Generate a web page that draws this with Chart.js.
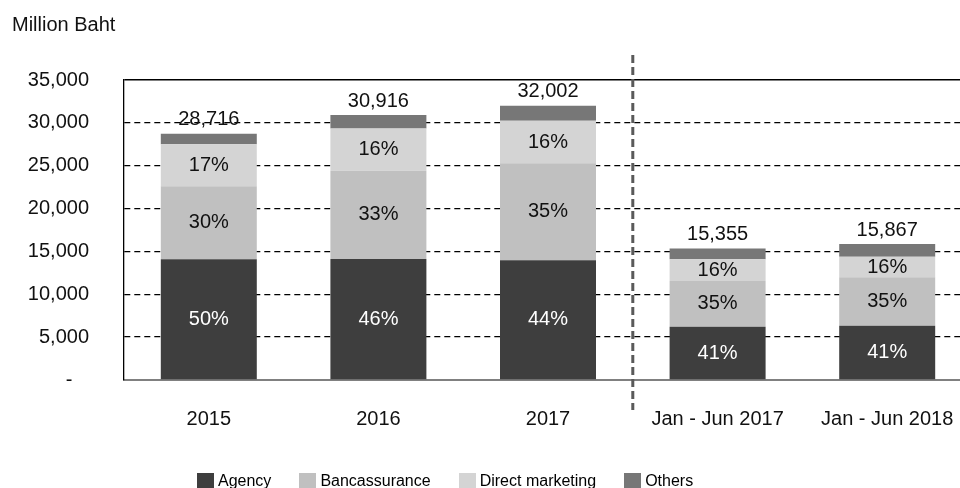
<!DOCTYPE html>
<html><head><meta charset="utf-8">
<script src="https://cdn.jsdelivr.net/npm/chart.js@4.4.1/dist/chart.umd.min.js"></script>
<style>
html,body{margin:0;padding:0;overflow:hidden;background:#fff;width:960px;height:488px;position:relative}
#wrap{position:absolute;left:0;top:0;width:972px;height:488px}
#legend{position:absolute;left:197px;top:473px;display:flex;font:16px 'Liberation Sans',Arial,sans-serif;line-height:16px;color:#000;white-space:nowrap}
.item{display:flex;align-items:flex-start;margin-right:28px}
.box{width:17px;height:15px;margin-right:4px}
</style></head><body>
<div id="wrap"><canvas id="c" width="972" height="488"></canvas></div>
<div id="legend"></div>
<script>
const categories = ['2015', '2016', '2017', 'Jan - Jun 2017', 'Jan - Jun 2018'];
const seriesNames = ['Agency', 'Bancassurance', 'Direct marketing', 'Others'];
const agency = [14100, 14120, 13960, 6220, 6340];
const bancassurance = [8500, 10300, 11320, 5330, 5640];
const directMarketing = [4900, 4910, 4970, 2530, 2410];
const others = [1216, 1586, 1752, 1275, 1477];
const totals = [28716, 30916, 32002, 15355, 15867];
const agencyPct = [50, 46, 44, 41, 41];
const bancPct = [30, 33, 35, 35, 35];
const dmPct = [17, 16, 16, 16, 16];
const yTicks = [0, 5000, 10000, 15000, 20000, 25000, 30000, 35000];
const colors = ['#3e3e3e', '#c0c0c0', '#d4d4d4', '#777777'];

const FONT = "'Liberation Sans', Arial, sans-serif";

const legendEl = document.getElementById('legend');
seriesNames.forEach((n, i) => {
  const it = document.createElement('div'); it.className = 'item';
  const b = document.createElement('div'); b.className = 'box'; b.style.background = colors[i];
  const t = document.createElement('span'); t.textContent = n;
  it.appendChild(b); it.appendChild(t); legendEl.appendChild(it);
});

const labelPlugin = {
  id: 'labels',
  afterDatasetsDraw(chart) {
    const ctx = chart.ctx;
    ctx.save();
    ctx.font = '20px ' + FONT;
    ctx.textAlign = 'center';
    ctx.textBaseline = 'middle';
    [agencyPct, bancPct, dmPct].forEach((arr, di) => {
      chart.getDatasetMeta(di).data.forEach((bar, i) => {
        const p = bar.getProps(['x', 'y', 'base'], true);
        ctx.fillStyle = di === 0 ? '#ffffff' : '#111111';
        ctx.fillText(arr[i] + '%', p.x, (p.y + p.base) / 2);
      });
    });
    const ys = chart.scales.y;
    chart.getDatasetMeta(3).data.forEach((bar, i) => {
      ctx.fillStyle = '#111111';
      ctx.fillText(totals[i].toLocaleString('en-US'), bar.x, ys.getPixelForValue(totals[i]) - 14);
    });
    ctx.restore();
  },
  afterDraw(chart) {
    const ctx = chart.ctx, xs = chart.scales.x, a = chart.chartArea;
    const x = (xs.getPixelForValue(2) + xs.getPixelForValue(3)) / 2;
    ctx.save();
    ctx.strokeStyle = '#5a5a5a';
    ctx.lineWidth = 3;
    ctx.setLineDash([8, 4]);
    ctx.beginPath();
    ctx.moveTo(x, a.top - 25);
    ctx.lineTo(x, a.bottom + 30);
    ctx.stroke();
    ctx.setLineDash([]);
    ctx.fillStyle = '#111111';
    ctx.font = '20px ' + FONT;
    ctx.textAlign = 'left';
    ctx.textBaseline = 'alphabetic';
    ctx.fillText('Million Baht', 12, 31);
    ctx.restore();
  }
};

new Chart(document.getElementById('c'), {
  type: 'bar',
  data: {
    labels: categories,
    datasets: [
      { label: seriesNames[0], data: agency, backgroundColor: colors[0] },
      { label: seriesNames[1], data: bancassurance, backgroundColor: colors[1] },
      { label: seriesNames[2], data: directMarketing, backgroundColor: colors[2] },
      { label: seriesNames[3], data: others, backgroundColor: colors[3] }
    ]
  },
  options: {
    responsive: false,
    maintainAspectRatio: false,
    animation: false,
    devicePixelRatio: 1,
    categoryPercentage: 1,
    barPercentage: 0.566,
    layout: { padding: { top: 80, bottom: 30, left: 0, right: 0 } },
    plugins: { legend: { display: false }, tooltip: { enabled: false } },
    scales: {
      x: {
        stacked: true,
        grid: { display: false, drawTicks: false },
        border: { display: true, color: '#808080', width: 2 },
        ticks: { padding: 27, color: '#111111', font: { size: 20, family: FONT }, maxRotation: 0, autoSkip: false },
        afterFit: s => { s.paddingLeft = 0; s.paddingRight = 0; }
      },
      y: {
        stacked: true,
        min: 0, max: 35000,
        afterBuildTicks: s => { s.ticks = yTicks.map(v => ({ value: v })); },
        afterFit: s => { s.width = 124; },
        ticks: {
          padding: 35, color: '#111111', font: { size: 20, family: FONT },
          callback: v => v === 0 ? '-   ' : v.toLocaleString('en-US')
        },
        grid: {
          drawTicks: false,
          color: c => (c.tick && c.tick.value === 0) ? 'rgba(0,0,0,0)' : '#000000',
          lineWidth: c => (c.tick && c.tick.value === 35000) ? 1.6 : 1.3
        },
        border: {
          display: true, color: '#000000', width: 1.3,
          dash: c => (c.tick && c.tick.value === 35000) ? [] : [6, 4]
        }
      }
    }
  },
  plugins: [labelPlugin]
});
</script>
</body></html>
